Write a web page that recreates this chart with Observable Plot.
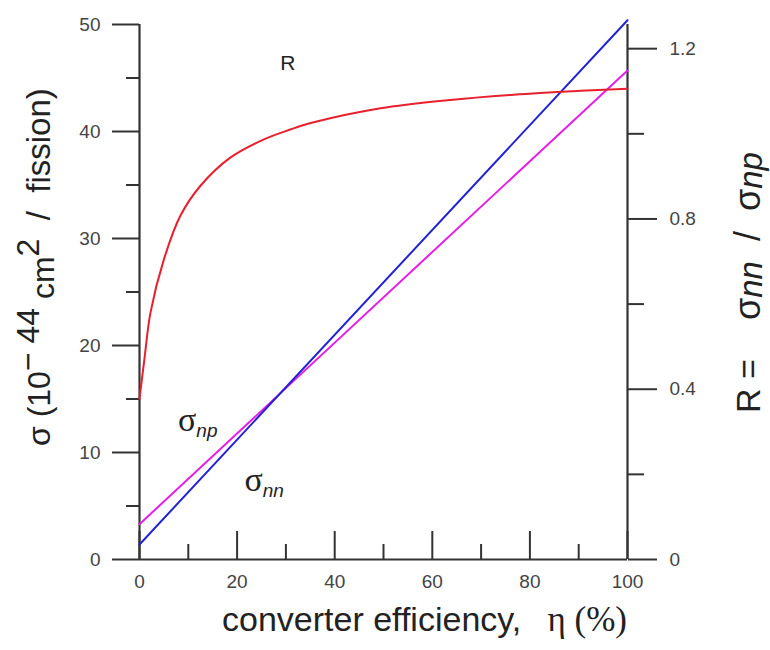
<!DOCTYPE html>
<html><head><meta charset="utf-8">
<script src="https://cdn.jsdelivr.net/npm/d3@7"></script>
<script src="https://cdn.jsdelivr.net/npm/@observablehq/plot@0.6"></script>
<style>body{margin:0;background:#fff} svg{display:block}</style>
</head><body><div id="chart"></div>
<script>
// ---- data ----
const eta = [0, 100];                 // converter efficiency (%)
const sigmaNN = [1.4, 50.4];          // sigma_nn (1e-44 cm^2 / fission)
const sigmaNP = [3.3, 45.7];          // sigma_np
const rEta = [0, 1, 2.25, 5, 8.4, 12.5, 18.6, 25.5, 30.9, 35.7, 49.4, 63.1, 76.7, 90.4, 100];
const rVal = [0.378, 0.47, 0.580, 0.705, 0.808, 0.878, 0.944, 0.987, 1.010, 1.027, 1.060, 1.079, 1.092, 1.101, 1.106];
const xTicks = [0, 20, 40, 60, 80, 100];
const xMinor = [10, 30, 50, 70, 90];
const yTicks = [0, 10, 20, 30, 40, 50];
const yMinor = [5, 15, 25, 35, 45];
const rTicks = [0, 0.4, 0.8, 1.2];
const rMinor = [0.2, 0.6, 1.0];
const yMax = 50;
const rMax = 1.2568;                  // right axis value at top of frame

const k = yMax / rMax;
const nnData = eta.map((e, i) => ({eta: e, v: sigmaNN[i]}));
const npData = eta.map((e, i) => ({eta: e, v: sigmaNP[i]}));
const rData = rEta.map((e, i) => ({eta: e, v: rVal[i] * k}));

const axisColor = "#333";
const labelColor = "#444";
const font = "'Liberation Sans', Arial, sans-serif";
const serif = "'Liberation Serif', 'Times New Roman', serif";
const tickFont = 19;

const plot = Plot.plot({
  width: 770, height: 650,
  marginLeft: 139, marginRight: 143, marginTop: 24, marginBottom: 91,
  style: {fontFamily: font, fontSize: "19px", color: labelColor, background: "#fff"},
  x: {domain: [0, 100]},
  y: {domain: [0, yMax]},
  marks: [
    Plot.axisX(xMinor, {tickSize: -15, tickFormat: () => "", stroke: axisColor, strokeWidth: 2, label: null}),
    Plot.axisX(xTicks, {tickSize: -28, tickPadding: 43, stroke: axisColor, strokeWidth: 2, fill: labelColor, fontSize: tickFont, label: null}),
    Plot.axisY(yMinor, {anchor: "left", tickSize: 13, tickFormat: () => "", stroke: axisColor, strokeWidth: 2, label: null}),
    Plot.axisY(yTicks, {anchor: "left", tickSize: 27, tickPadding: 12, stroke: axisColor, strokeWidth: 2, fill: labelColor, fontSize: tickFont, label: null}),
    Plot.axisY(rMinor.map(v => v * k), {anchor: "right", tickSize: 16, tickFormat: () => "", stroke: axisColor, strokeWidth: 2, label: null}),
    Plot.axisY(rTicks.map(v => v * k), {anchor: "right", tickSize: 29, tickPadding: 13, stroke: axisColor, strokeWidth: 2, fill: labelColor, fontSize: tickFont, label: null,
      tickFormat: d => { const r = Math.round(d / k * 10) / 10; return r === 0 ? "0" : r.toFixed(1); }}),
    Plot.ruleX([0, 100], {stroke: axisColor, strokeWidth: 2.2}),
    Plot.ruleY([0], {stroke: axisColor, strokeWidth: 2.2}),
    Plot.line(npData, {x: "eta", y: "v", stroke: "#e61ee6", strokeWidth: 2}),
    Plot.line(nnData, {x: "eta", y: "v", stroke: "#2222d4", strokeWidth: 2}),
    Plot.line(rData, {x: "eta", y: "v", stroke: "#e8202e", strokeWidth: 2, curve: "catmull-rom"})
  ]
});
document.getElementById("chart").appendChild(plot);

const svg = d3.select(plot);
const xs = plot.scale("x"), ys = plot.scale("y");

function rich(x, y, rot, parts, anchor) {
  const t = svg.append("text")
    .attr("transform", `translate(${x},${y})` + (rot ? ` rotate(${rot})` : ""))
    .attr("text-anchor", anchor || "start")
    .attr("fill", "#222")
    .style("white-space", "pre");
  for (const p of parts) {
    const s = t.append("tspan").text(p.t)
      .attr("font-size", p.size)
      .attr("font-family", p.family || font);
    if (p.dy) s.attr("dy", p.dy);
    if (p.italic) s.attr("font-style", "italic");
  }
  return t;
}

// x title
rich(222, 631, 0, [
  {t: "converter efficiency,", size: 34},
  {t: "   η (%)", size: 35, family: serif}
]);

// left title (rotated)
rich(50, 446, -90, [
  {t: "σ (10", size: 32},
  {t: "−", size: 32, dy: -11},
  {t: " 44", size: 32},
  {t: " cm", size: 32, dy: 15},
  {t: "2", size: 32, dy: -15},
  {t: "  /  fission)", size: 33, dy: 11}
]);

// right title (rotated)
rich(760, 413, -90, [{t: "R =", size: 34}]);
rich(760, 320, -90, [
  {t: "σ", size: 36},
  {t: "nn", size: 33, italic: true, dy: 2},
  {t: "  /  ", size: 36, dy: -2},
  {t: "σ", size: 36},
  {t: "np", size: 33, italic: true, dy: 2}
]);

// in-plot labels
rich(xs.apply(30.5), ys.apply(45.7), 0, [{t: "R", size: 21}], "middle");
rich(xs.apply(8.0), ys.apply(12.0), 0, [
  {t: "σ", size: 34, family: serif},
  {t: "np", size: 19, italic: true, dy: 6}
]);
rich(xs.apply(21.6), ys.apply(6.4), 0, [
  {t: "σ", size: 34, family: serif},
  {t: "nn", size: 19, italic: true, dy: 6}
]);
</script>
</body></html>
